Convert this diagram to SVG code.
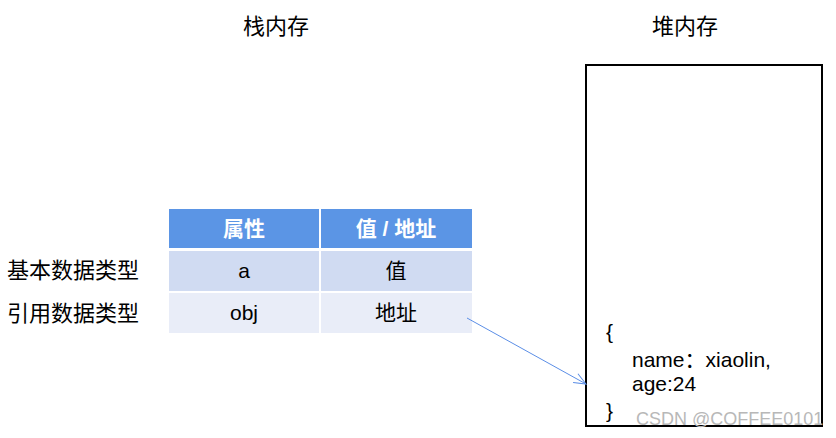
<svg xmlns="http://www.w3.org/2000/svg" width="836" height="438" viewBox="0 0 836 438">
<style>
text{font-family:"Liberation Sans","Noto Sans CJK SC",sans-serif;fill:#000}
.t{font-size:22px}
.h{font-size:21px;font-weight:bold;fill:#fff;text-anchor:middle}
.c{font-size:21px;text-anchor:middle}
.j{font-size:21px}
</style>
<defs>
<marker id="ar" markerWidth="14" markerHeight="12" refX="13" refY="6" orient="auto" markerUnits="userSpaceOnUse">
<path d="M1,1 L13,6 L1,11" fill="none" stroke="#5b8ee6" stroke-width="1"/>
</marker>
</defs>
<rect width="836" height="438" fill="#fff"/>
<text class="t" x="276" y="34" text-anchor="middle">栈内存</text>
<text class="t" x="685" y="34" text-anchor="middle">堆内存</text>
<g id="table">
<rect x="169" y="209" width="150" height="39" fill="#5b95e5"/>
<rect x="321" y="209" width="151" height="39" fill="#5b95e5"/>
<rect x="169" y="251" width="150" height="40" fill="#d0dbf2"/>
<rect x="321" y="251" width="151" height="40" fill="#d0dbf2"/>
<rect x="169" y="293" width="150" height="40" fill="#e9edf8"/>
<rect x="321" y="293" width="151" height="40" fill="#e9edf8"/>
<text class="h" x="244" y="236">属性</text>
<text class="h" x="396" y="236">值 / 地址</text>
<text class="c" x="244" y="278">a</text>
<text class="c" x="396" y="278">值</text>
<text class="c" x="244" y="320">obj</text>
<text class="c" x="396" y="320">地址</text>
</g>
<g id="labels">
<text class="t" x="7" y="278">基本数据类型</text>
<text class="t" x="7" y="321">引用数据类型</text>
</g>
<g id="heap">
<rect x="586" y="65" width="236" height="361" fill="none" stroke="#000" stroke-width="2"/>
<text class="j" x="606" y="339">{</text>
<text class="j" x="632" y="367">name：xiaolin,</text>
<text class="j" x="632" y="391">age:24</text>
<text class="j" x="606" y="418">}</text>
</g>
<g id="connectors">
<line x1="467" y1="318" x2="586" y2="384" stroke="#5b8ee6" stroke-width="1" marker-end="url(#ar)"/>
</g>
<text x="636" y="425" font-size="18" style="fill:#b8b8b8">CSDN @COFFEE0101</text>
</svg>
